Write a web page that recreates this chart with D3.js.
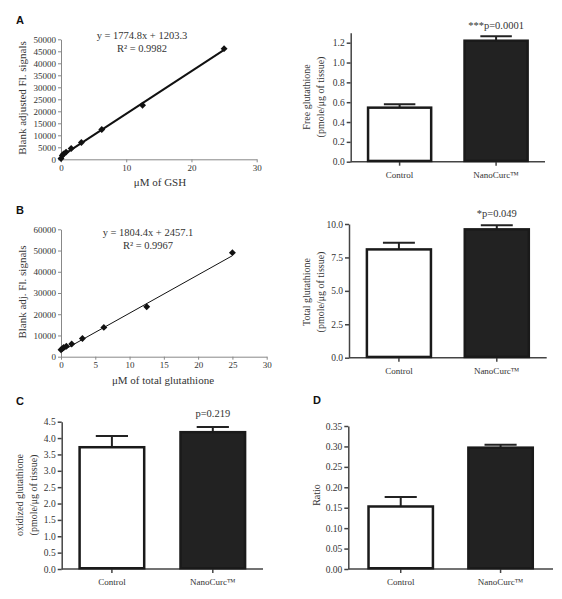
<!DOCTYPE html>
<html><head><meta charset="utf-8">
<script src="https://cdn.jsdelivr.net/npm/d3@7"></script>
<style>
body{margin:0;background:#fff;}
svg{display:block;}
text{font-family:"Liberation Serif","Times New Roman",serif;fill:#333;}
.letter{font-family:"Liberation Sans",Arial,sans-serif;font-weight:bold;fill:#111;}
</style></head><body>
<script>
// ---------- DATA ----------
const stdConcGSH = [0, 0.2, 0.39, 0.78, 1.56, 3.125, 6.25, 12.5, 25];
const stdSignalGSH = [300, 1600, 2200, 3000, 4500, 7000, 12400, 22500, 46100];
const fitGSH = {slope: 1774.8, intercept: 1203.3};
const eqGSH = ["y = 1774.8x + 1203.3", "R² = 0.9982"];

const stdConcTotal = [0, 0.2, 0.39, 0.78, 1.56, 3.125, 6.25, 12.5, 25];
const stdSignalTotal = [3300, 3800, 4300, 4900, 5950, 8600, 13800, 23500, 49000];
const fitTotal = {slope: 1804.4, intercept: 2457.1};
const eqTotal = ["y = 1804.4x + 2457.1", "R² = 0.9967"];

const groups = ["Control", "NanoCurc™"];
const freeGSH = [0.545, 1.22];
const freeGSHErr = [0.035, 0.045];
const totalGSH = [8.1, 9.6];
const totalGSHErr = [0.5, 0.3];
const oxGSH = [3.72, 4.18];
const oxGSHErr = [0.34, 0.16];
const ratio = [0.153, 0.297];
const ratioErr = [0.023, 0.007];

const pFree = "***p=0.0001", pTotal = "*p=0.049", pOx = "p=0.219";

const ticksA = [0,5000,10000,15000,20000,25000,30000,35000,40000,45000,50000];
const ticksB = [0,10000,20000,30000,40000,50000,60000];

// ---------- DRAW ----------
const svg = d3.select("body").append("svg").attr("width",562).attr("height",599);

function styleAxis(g, color, w){
  g.select(".domain").attr("stroke",color).attr("stroke-width",w);
  g.selectAll(".tick line").attr("stroke",color).attr("stroke-width",w);
  g.selectAll(".tick text").attr("font-family","Liberation Serif, serif").attr("fill","#333");
}

function scatter(o){
  const x = d3.scaleLinear().domain([0,30]).range([o.x0,o.x1]);
  const y = d3.scaleLinear().domain([0,o.ymax]).range([o.y0,o.y1]);
  const g = svg.append("g");
  const gx = g.append("g").attr("transform",`translate(0,${o.y0})`)
    .call(d3.axisBottom(x).tickValues(o.xticks).tickSize(3).tickSizeOuter(0).tickPadding(2).tickFormat(d3.format("d")));
  gx.selectAll("text").attr("font-size",9);
  styleAxis(gx,"#888",1);
  const gy = g.append("g").attr("transform",`translate(${o.x0},0)`)
    .call(d3.axisLeft(y).tickValues(o.yticks).tickSize(3).tickSizeOuter(0).tickPadding(2).tickFormat(d3.format("d")));
  gy.selectAll("text").attr("font-size",9);
  styleAxis(gy,"#888",1);
  g.append("line").attr("x1",x(0)).attr("x2",x(25))
    .attr("y1",y(o.fit.intercept)).attr("y2",y(o.fit.slope*25+o.fit.intercept))
    .attr("stroke","#111").attr("stroke-width",o.lw);
  const sym = d3.symbol().type(d3.symbolSquare).size(24);
  g.selectAll("path.pt").data(o.xs).join("path").attr("class","pt")
    .attr("d",sym).attr("fill","#111")
    .attr("transform",(d,i)=>`translate(${x(d)},${y(o.ys[i])}) rotate(45)`);
  o.eq.forEach((t,i)=>g.append("text").attr("x",o.eqx).attr("y",o.eqy+i*13)
    .attr("text-anchor","middle").attr("font-size",10.5).attr("fill","#222").text(t));
  g.append("text").attr("x",o.xlx).attr("y",o.xly).attr("text-anchor","middle")
    .attr("font-size",11).text(o.xlabel);
  g.append("text").attr("transform",`translate(${o.ylx},${o.yly}) rotate(-90)`)
    .attr("text-anchor","middle").attr("font-size",11).text(o.ylabel);
}

function bars(o){
  const x = d3.scaleBand().domain(groups).range([o.ax, o.axEnd]).paddingInner(o.pi).paddingOuter(o.po);
  const y = d3.scaleLinear().domain([0,o.ymax]).range([o.y0, o.y0 - (o.y0-o.yRef)*o.ymax/o.yRefV]);
  const g = svg.append("g");
  const gy = g.append("g").attr("transform",`translate(${o.ax},0)`)
    .call(d3.axisLeft(y).tickValues(o.ticks).tickSize(4).tickSizeOuter(0).tickPadding(2).tickFormat(d3.format(o.fmt)));
  gy.selectAll("text").attr("font-size",9.5);
  styleAxis(gy,"#444",1.5);
  const gx = g.append("g").attr("transform",`translate(0,${o.y0})`)
    .call(d3.axisBottom(x).tickSize(4).tickSizeOuter(0).tickPadding(6));
  gx.selectAll("text").attr("font-size",9);
  styleAxis(gx,"#444",1.5);
  gx.select(".domain").attr("d",`M${o.ax},0H${o.axEnd}`);
  const bw = x.bandwidth();
  // error bars
  g.selectAll("line.eb").data(o.vals).join("line").attr("class","eb")
    .attr("x1",(d,i)=>x(groups[i])+bw/2).attr("x2",(d,i)=>x(groups[i])+bw/2)
    .attr("y1",d=>y(d)).attr("y2",(d,i)=>y(d+o.errs[i]))
    .attr("stroke","#222").attr("stroke-width",2);
  g.selectAll("line.cap").data(o.vals).join("line").attr("class","cap")
    .attr("x1",(d,i)=>x(groups[i])+bw/2-bw*0.24).attr("x2",(d,i)=>x(groups[i])+bw/2+bw*0.24)
    .attr("y1",(d,i)=>y(d+o.errs[i])).attr("y2",(d,i)=>y(d+o.errs[i]))
    .attr("stroke","#222").attr("stroke-width",2);
  g.selectAll("rect").data(o.vals).join("rect")
    .attr("x",(d,i)=>x(groups[i])+1.25).attr("width",bw-2.5)
    .attr("y",d=>y(d)).attr("height",d=>y(0)-y(d)-0.75)
    .attr("fill",(d,i)=>i===0?"#fff":"#222").attr("stroke","#1a1a1a").attr("stroke-width",2.5);
  if(o.p) g.append("text").attr("x",x(groups[1])+bw/2).attr("y",o.py)
    .attr("text-anchor","middle").attr("font-size",10.5).text(o.p);
  o.ylabel.forEach((t,i)=>g.append("text")
    .attr("transform",`translate(${o.ylx + i*14},${o.yly}) rotate(-90)`)
    .attr("text-anchor","middle").attr("font-size",10).text(t));
}

scatter({x0:61,x1:256.7,y0:159.3,y1:39.3,ymax:50000,xticks:[0,10,20,30],yticks:ticksA,
  xs:stdConcGSH,ys:stdSignalGSH,fit:fitGSH,eq:eqGSH,eqx:142,eqy:39,lw:2,
  xlabel:"μM of GSH",xlx:160,xly:186,ylabel:"Blank adjusted Fl. signals",ylx:26,yly:98});
scatter({x0:61,x1:266.7,y0:356.7,y1:229.3,ymax:60000,xticks:[0,5,10,15,20,25,30],yticks:ticksB,
  xs:stdConcTotal,ys:stdSignalTotal,fit:fitTotal,eq:eqTotal,eqx:148,eqy:236,lw:1,
  xlabel:"μM of total glutathione",xlx:163,xly:384,ylabel:"Blank adj. Fl. signals",ylx:26,yly:292});

bars({ax:350.7,axEnd:545,pi:0.32,po:0.167,y0:161.7,yRef:42.7,yRefV:1.2,ymax:1.3,
  ticks:[0,0.2,0.4,0.6,0.8,1.0,1.2],fmt:".1f",vals:freeGSH,errs:freeGSHErr,p:pFree,py:29,
  ylabel:["Free glutathione","(pmole/μg of tissue)"],ylx:310,yly:97});
bars({ax:349,axEnd:546.7,pi:0.32,po:0.17,y0:357.7,yRef:224,yRefV:10,ymax:10,
  ticks:[0,2.5,5,7.5,10],fmt:".1f",vals:totalGSH,errs:totalGSHErr,p:pTotal,py:217,
  ylabel:["Total glutathione","(pmole/μg of tissue)"],ylx:310,yly:292});
bars({ax:61.7,axEnd:263,pi:0.335,po:0.165,y0:569,yRef:421.7,yRefV:4.5,ymax:4.5,
  ticks:d3.range(0,4.51,0.5),fmt:".1f",vals:oxGSH,errs:oxGSHErr,p:pOx,py:417,
  ylabel:["oxidized glutathione","(pmole/μg of tissue)"],ylx:23,yly:495});
bars({ax:348.3,axEnd:553,pi:0.33,po:0.19,y0:569,yRef:426,yRefV:0.35,ymax:0.35,
  ticks:[0,0.05,0.1,0.15,0.2,0.25,0.3,0.35],fmt:".2f",vals:ratio,errs:ratioErr,p:null,
  ylabel:["Ratio"],ylx:320,yly:495});

[["A",16,24],["B",16,214],["C",16,405],["D",313,404]].forEach(([t,x,y])=>
  svg.append("text").attr("class","letter").attr("x",x).attr("y",y).attr("font-size",11).text(t));
</script></body></html>
